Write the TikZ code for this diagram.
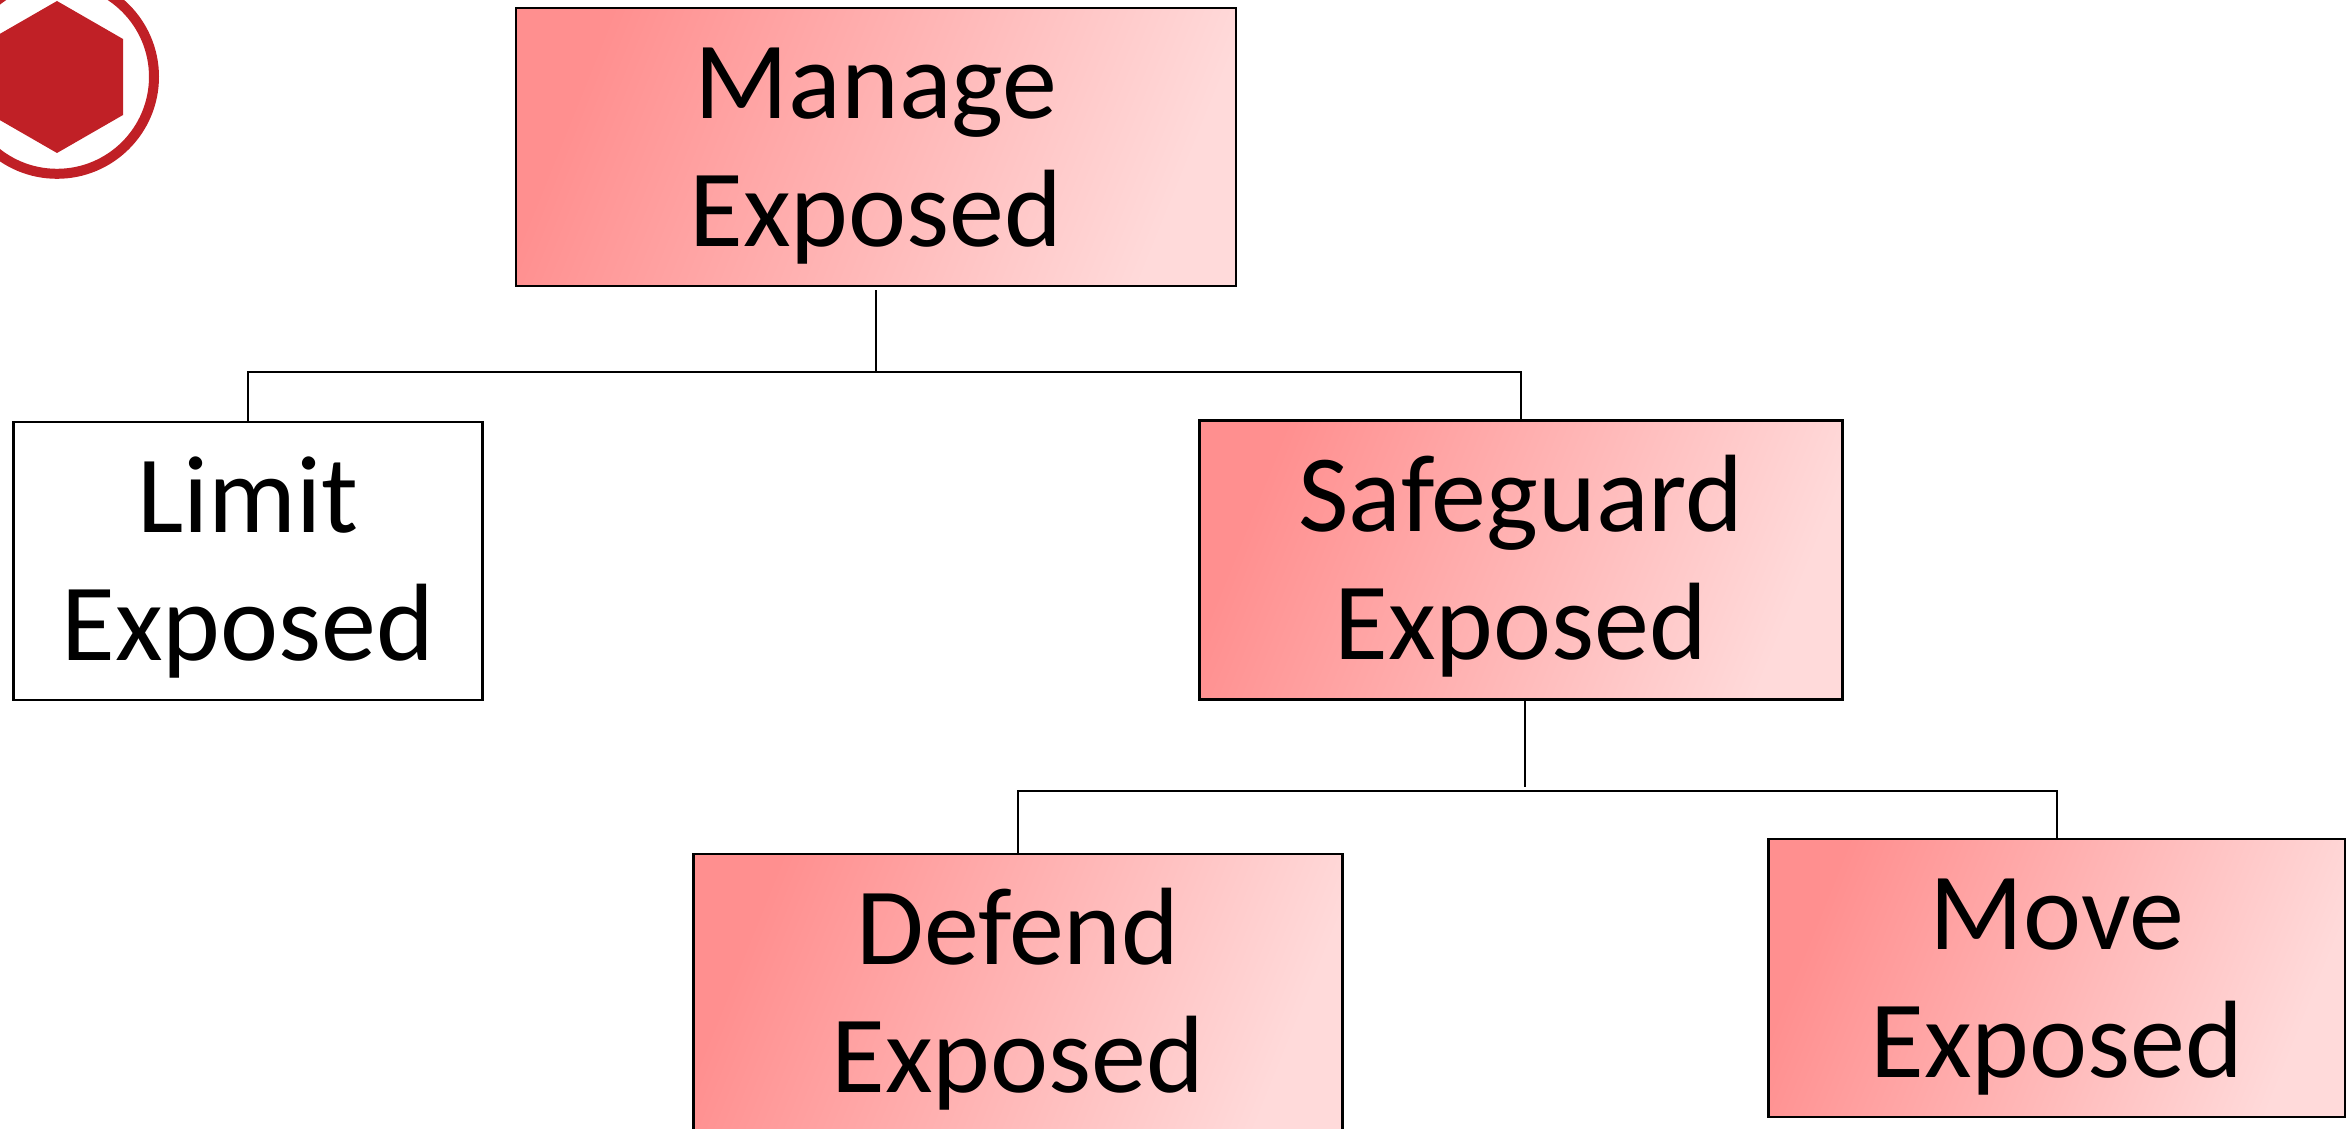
\documentclass[tikz,border=0pt]{standalone}
\usepackage{fontspec}
\setmainfont{Carlito}
\definecolor{logored}{HTML}{C02026}
\definecolor{boxstart}{HTML}{FF8F8F}
\definecolor{boxend}{HTML}{FFDADA}
\tikzset{
   plainbox/.style={draw=black, line width=1.2pt, inner sep=0pt, align=center,
      text height=119pt, text depth=19.5pt,
      font=\fontsize{55}{64}\selectfont},
   shadedbox/.style={plainbox, left color=boxstart, right color=boxend, shading angle=68},
   link/.style={draw=black, line width=1.4pt},
   stem/.style={draw=black, line width=1.1pt}
}
\begin{document}
\begin{tikzpicture}[x=0.5pt, y=-0.5pt]
      \useasboundingbox (0, 0) rectangle (2346, 1129);
      \def \Boxes {
         manage/876/147/720/278/Manage,
         safeguard/1521/560/643/279/Safeguard,
         defend/1018/993/649/278/Defend,
         move/2057/978/577/278/Move}
      \foreach \u / \x / \y / \w / \h / \n in \Boxes {
         \node[shadedbox, minimum width=\w*0.5pt, minimum height=\h*0.5pt] (\u) at (\x, \y){\n\\Exposed};
      }
      \node[plainbox, minimum width=469*0.5pt, minimum height=278*0.5pt] (limit) at (248, 561){Limit\\Exposed};
      % logo
      \draw[logored, line width=5pt] (57, 76.8) circle (48.5pt);
      \fill[logored] (57, 1) -- (123, 39) -- (123, 115) -- (57, 153) -- (-9, 115) -- (-9, 39) -- cycle;
      % links
      \coordinate (topbus) at (876, 372);
      \coordinate (lowbus) at (1525, 791);
      \coordinate (topstem) at ([yshift=-1.5pt]manage.south);
      \coordinate (lowstem) at (1525, 701);
      \coordinate (lowend) at (1525, 787);
      \path[stem] (topstem) -- (topbus);
      \path[link] (limit.north) |- (topbus) -| (safeguard.north);
      \path[stem] (lowstem) -- (lowend);
      \path[link] (defend.north) |- (lowbus) -| (move.north);
\end{tikzpicture}
\end{document}
